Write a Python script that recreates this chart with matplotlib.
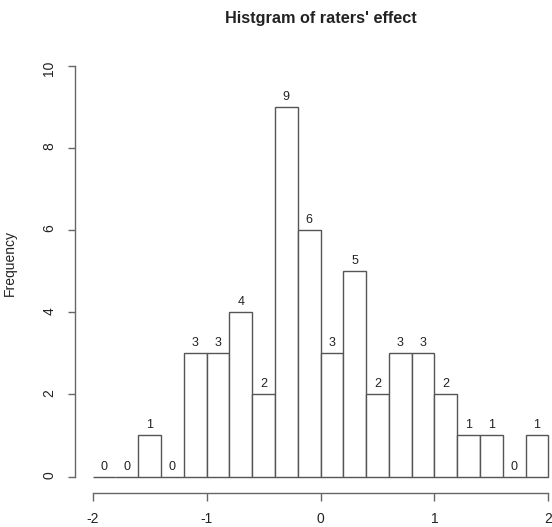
import matplotlib
matplotlib.use("Agg")
import matplotlib.pyplot as plt
import numpy as np

bin_edges = [-2.0, -1.8, -1.6, -1.4, -1.2, -1.0, -0.8, -0.6, -0.4, -0.2, 0.0,
             0.2, 0.4, 0.6, 0.8, 1.0, 1.2, 1.4, 1.6, 1.8, 2.0]
counts = [0, 0, 1, 0, 3, 3, 4, 2, 9, 6, 3, 5, 2, 3, 3, 2, 1, 1, 0, 1]
x_ticks = [-2, -1, 0, 1, 2]
y_ticks = [0, 2, 4, 6, 8, 10]

plt.rcParams['font.family'] = ['Liberation Sans', 'DejaVu Sans']

W, H = 552, 527
PT = 72 / 100  # points per pixel at dpi 100
fig = plt.figure(figsize=(W / 100, H / 100), dpi=100)
left, right = 92.7 / W, 548.3 / W
bottom, top = (H - 476.5) / H, (H - 66) / H
ax = fig.add_axes([left, bottom, right - left, top - bottom])

edges = np.array(bin_edges)
widths = np.diff(edges)
ax.bar(edges[:-1], counts, width=widths, align='edge', facecolor='white',
       edgecolor='#555555', linewidth=1.0, clip_on=False)
for x0, w, c in zip(edges[:-1], widths, counts):
    ax.annotate(str(c), (x0 + w / 2, c), xytext=(0, 10 * PT), textcoords='offset points',
                ha='center', va='center', fontsize=9, color='#222222')

ax.set_xlim(-2, 2)
ax.set_ylim(0, 10)
ax.set_xticks(x_ticks)
ax.set_yticks(y_ticks)
ax.set_xticklabels([str(t) for t in x_ticks])
ax.set_yticklabels([str(t) for t in y_ticks], va='center')

for s in ['top', 'right']:
    ax.spines[s].set_visible(False)
ax.spines['left'].set_position(('outward', 17.7 * PT))
ax.spines['bottom'].set_position(('outward', 16.2 * PT))
ax.spines['left'].set_bounds(0, 10)
ax.spines['bottom'].set_bounds(-2, 2)
for s in ['left', 'bottom']:
    ax.spines[s].set_color('#666666')
    ax.spines[s].set_linewidth(1.0)
ax.tick_params(axis='both', length=7.5 * PT, width=1.0, color='#666666',
               labelsize=10, labelcolor='#222222')
ax.tick_params(axis='y', labelrotation=90, pad=11 * PT)
ax.tick_params(axis='x', pad=12 * PT)

ax.set_ylabel('Frequency', fontsize=10, color='#222222')
ax.yaxis.set_label_coords(16.7 / W, 0.5, transform=fig.transFigure)
fig.text((left + right) / 2, 1 - 18 / H, "Histgram of raters' effect",
         ha='center', va='center', fontsize=11.7, fontweight='bold', color='#222222')

fig.savefig('out.png', dpi=100, facecolor='white')
